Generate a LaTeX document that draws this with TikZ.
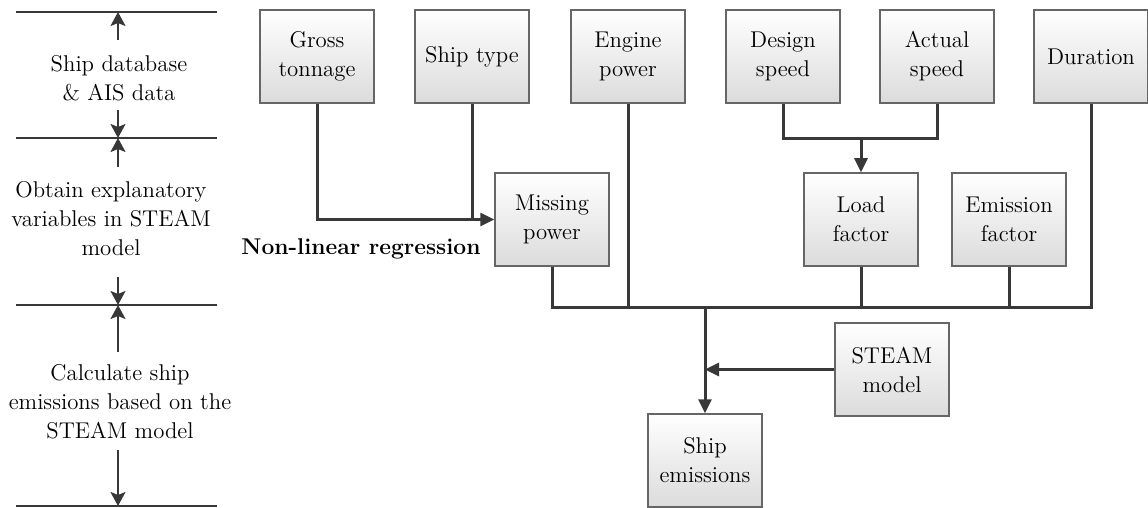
\documentclass[tikz,border=0pt]{standalone}
\usetikzlibrary{arrows.meta}

\begin{document}
\begin{tikzpicture}[x=0.5pt, y=-0.5pt,
    box/.style={rectangle, draw=black!60, line width=0.75pt,
        top color=white, bottom color=black!14,
        minimum width=57pt, minimum height=46.5pt, inner sep=1pt,
        align=center, font=\fontsize{11.4}{14.5}\selectfont},
    label/.style={align=center, font=\fontsize{11.4}{14.5}\selectfont},
    link/.style={line width=1.5pt, draw=black!78},
    arrow/.style={link, -{Triangle[length=7pt, width=6.5pt]}},
    rule/.style={line width=1pt, draw=black!78},
    stagearrow/.style={line width=1pt, draw=black!78, -{Stealth[length=7pt, width=7.5pt, inset=1.5pt]}}
]
    \useasboundingbox (0,0) rectangle (1148,508);

    % stages on the left
    \draw[rule] (16,12) -- (217,12);
    \draw[rule] (16,138) -- (217,138);
    \draw[rule] (16,305) -- (217,305);
    \draw[rule] (16,506) -- (217,506);
    \node[label] (s1) at (119,78) {Ship database\\\& AIS data};
    \node[label] (s2) at (111,219) {Obtain explanatory\\variables in STEAM\\model};
    \node[label] (s3) at (120,402) {Calculate ship\\emissions based on the\\STEAM model};
    \draw[stagearrow] (118,40) -- (118,12);
    \draw[stagearrow] (118,110) -- (118,138);
    \draw[stagearrow] (118,167) -- (118,138);
    \draw[stagearrow] (118,277) -- (118,305);
    \draw[stagearrow] (118,352) -- (118,305);
    \draw[stagearrow] (118,450) -- (118,506);

    % inputs
    \node[box] (gt) at (317,56.5) {Gross\\tonnage};
    \node[box] (st) at (472,56.5) {Ship type};
    \node[box] (ep) at (628,56.5) {Engine\\power};
    \node[box] (ds) at (783,56.5) {Design\\speed};
    \node[box] (as) at (937,56.5) {Actual\\speed};
    \node[box] (du) at (1091,56.5) {Duration};

    % explanatory variables
    \node[box] (mp) at (552,219.5) {Missing\\power};
    \node[box] (lf) at (861,219.5) {Load\\factor};
    \node[box] (ef) at (1009,219.5) {Emission\\factor};
    \node[label, font=\fontsize{11.4}{14.5}\selectfont\bfseries] (nl) at (361,249) {Non-linear regression};

    % model and result
    \node[box] (sm) at (892,369.5) {STEAM\\model};
    \node[box] (se) at (705,460.5) {Ship\\emissions};
    \coordinate (bus) at (705,308);

    \draw[arrow] (gt.south) |- (mp.west);
    \draw[link] (st.south) -- (st.south |- mp.west);
    \draw[link] (ds.south) -- ++(0,35) -| (as.south);
    \draw[arrow] (lf.north |- 0,138) -- (lf.north);
    \draw[link] (mp.south) |- (du.south |- bus) -- (du.south);
    \draw[link] (ep.south) -- (ep.south |- bus);
    \draw[link] (lf.south) -- (lf.south |- bus);
    \draw[link] (ef.south) -- (ef.south |- bus);
    \draw[arrow] (bus) -- (se.north);
    \draw[arrow] (sm.west) -- (se.north |- sm.west);
\end{tikzpicture}
\end{document}
